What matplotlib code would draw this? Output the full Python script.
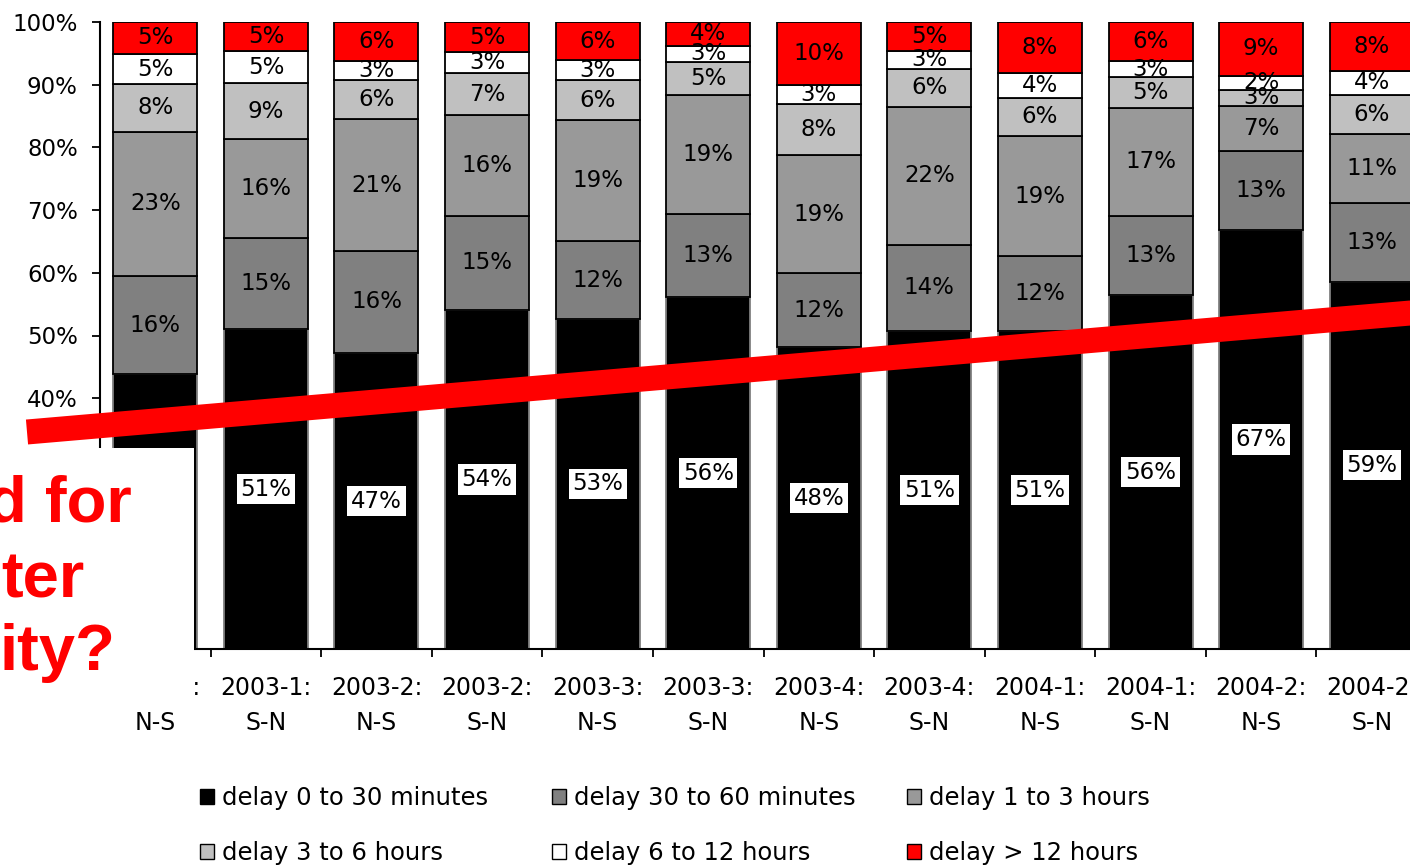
import matplotlib
matplotlib.use("Agg")
import matplotlib.pyplot as plt
import numpy as np
from matplotlib.patches import Patch, Rectangle
from matplotlib.lines import Line2D

# Data (share of trains per delay class, %)
periods = ["2003-1:\nN-S", "2003-1:\nS-N", "2003-2:\nN-S", "2003-2:\nS-N",
           "2003-3:\nN-S", "2003-3:\nS-N", "2003-4:\nN-S", "2003-4:\nS-N",
           "2004-1:\nN-S", "2004-1:\nS-N", "2004-2:\nN-S", "2004-2:\nS-N"]
series_names = ["delay 0 to 30 minutes", "delay 30 to 60 minutes", "delay 1 to 3 hours",
                "delay 3 to 6 hours", "delay 6 to 12 hours", "delay > 12 hours"]
d0_30m = [43.8, 51.0, 47.2, 54.1, 52.7, 56.1, 48.1, 50.7, 50.7, 56.4, 66.8, 58.6]
d30_60m = [15.7, 14.6, 16.3, 15.0, 12.3, 13.3, 11.8, 13.8, 11.9, 12.7, 12.6, 12.6]
d1_3h = [23.0, 15.8, 21.0, 16.0, 19.4, 18.9, 18.9, 22.0, 19.2, 17.2, 7.2, 11.0]
d3_6h = [7.6, 8.8, 6.2, 6.8, 6.3, 5.3, 8.2, 6.0, 6.1, 4.9, 2.6, 6.2]
d6_12h = [4.8, 5.2, 3.1, 3.3, 3.2, 2.6, 3.0, 2.9, 3.9, 2.6, 2.2, 3.8]
d12h = [5.1, 4.6, 6.2, 4.8, 6.1, 3.8, 10.0, 4.6, 8.2, 6.2, 8.6, 7.8]

series = [d0_30m, d30_60m, d1_3h, d3_6h, d6_12h, d12h]
colors = ["#000000", "#808080", "#999999", "#c0c0c0", "#ffffff", "#ff0000"]

plt.rcParams["font.family"] = ["DejaVu Sans"]

fig = plt.figure(figsize=(14.1, 8.65), dpi=100)
ax = fig.add_axes([100 / 1410, 216 / 865, 1327 / 1410, 627 / 865])

x = np.arange(len(periods))
bottom = np.zeros(len(periods))
for i, (vals, col) in enumerate(zip(series, colors)):
    vals = np.array(vals)
    edge = "#808080" if i == 0 else "black"
    bars = ax.bar(x, vals, 0.76, bottom=bottom, color=col, edgecolor=edge,
                  linewidth=1.3, label=series_names[i])
    labels = [f"{v:.0f}%" for v in vals]
    if i == 0:
        ax.bar_label(bars, labels=labels, label_type="center", fontsize=16.5,
                     bbox=dict(facecolor="white", edgecolor="none", pad=2.7))
    else:
        ax.bar_label(bars, labels=labels, label_type="center", fontsize=16.5)
    bottom += vals

ax.set_xlim(-0.5, 11.5)
ax.set_ylim(0, 100)
ax.set_yticks(np.arange(0, 101, 10))
# lower tick labels sit under the slide's white box, so they stay blank
ax.set_yticklabels([f"{v}%" if v >= 40 else "" for v in range(0, 101, 10)], fontsize=16.5)
ax.tick_params(axis="y", length=6, width=1.3, pad=10)
ax.set_xticks(x)
ax.set_xticklabels(periods, fontsize=17, linespacing=1.6)
ax.set_xticks(np.arange(-0.5, 12, 1), minor=True)
ax.tick_params(axis="x", which="major", length=0, pad=19.5)
ax.tick_params(axis="x", which="minor", length=6, width=1.3)
for s in ["top", "right"]:
    ax.spines[s].set_visible(False)
for s in ["left", "bottom"]:
    ax.spines[s].set_linewidth(1.5)

# legend: three columns of two rows
col_x = [200, 552, 907]
for j in range(3):
    hs = [Patch(facecolor=colors[k], edgecolor="black", linewidth=1) for k in (j, j + 3)]
    fig.legend(hs, [series_names[j], series_names[j + 3]], loc="upper left",
               bbox_to_anchor=(col_x[j] / 1410, 1 - 786 / 865), frameon=False,
               fontsize=17.5, borderpad=0, borderaxespad=0, handlelength=0.58,
               handleheight=0.58, handletextpad=0.33, labelspacing=1.27)

# slide overlay: white box, red text and red trend stroke
fig.add_artist(Rectangle((0, 1 - 705 / 865), 194 / 1410, (705 - 448) / 865,
                         transform=fig.transFigure, facecolor="white",
                         edgecolor="none", zorder=5))
for txt, px, py in [("d for", -13, 522), ("ter", 1, 597), ("ity?", -1, 670)]:
    fig.text(px / 1410, 1 - py / 865, txt, color="#ff0000", fontsize=47,
             fontweight="bold", family="Liberation Sans", ha="left",
             va="baseline", zorder=6)
fig.add_artist(Line2D([27 / 1410, 1450 / 1410], [1 - 432 / 865, 1 - 309.6 / 865],
                      transform=fig.transFigure, color="#ff0000", linewidth=18,
                      solid_capstyle="butt", zorder=7))

fig.savefig("out.png", dpi=100)
